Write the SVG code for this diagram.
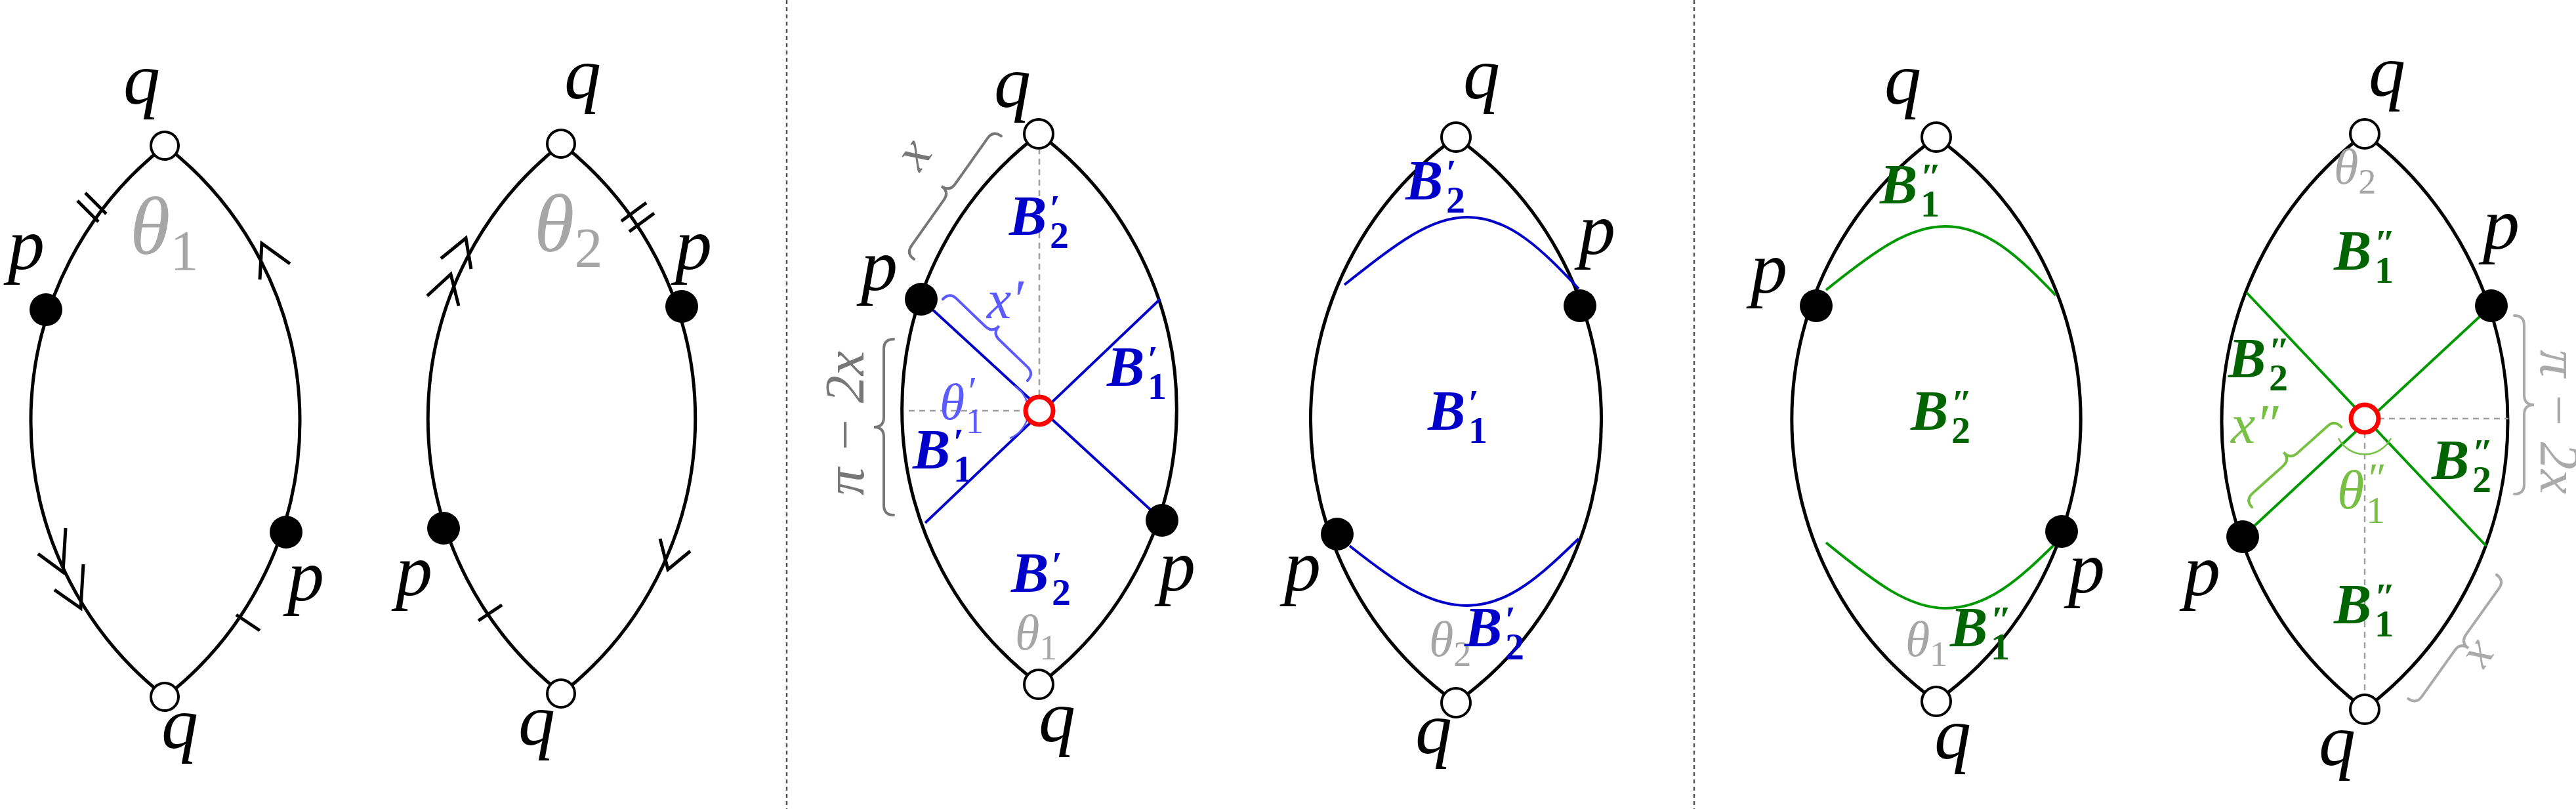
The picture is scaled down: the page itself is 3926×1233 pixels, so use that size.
<svg xmlns="http://www.w3.org/2000/svg" width="3926" height="1233" viewBox="0 0 3926 1233">
<style>
.lens{fill:none;stroke:#000;stroke-width:5}
.hole{fill:#fff;stroke:#000;stroke-width:4}
.dot{fill:#000}
.red{fill:#fff;stroke:#ff0000;stroke-width:7}
.tk{stroke:#000;stroke-width:5;fill:none}
.m{font-family:"Liberation Serif",serif;font-style:italic;font-size:112px;fill:#000}
.th{font-family:"Liberation Serif",serif;font-style:italic;fill:#a6a6a6}
.sub{font-family:"Liberation Serif",serif;font-style:normal}
.bb{font-family:"Liberation Serif",serif;font-style:italic;font-weight:bold;font-size:86px}
.bs{font-family:"Liberation Serif",serif;font-weight:bold;font-size:58px}
.blue{fill:#0000c8}
.green{fill:#006400}
.bl{stroke:#0000c8;stroke-width:4;fill:none}
.gl{stroke:#009900;stroke-width:4;fill:none}
.dash{stroke:#a0a0a0;stroke-width:2.5;stroke-dasharray:9 7;fill:none}
.sep{stroke:#555;stroke-width:2.5;stroke-dasharray:6 5}
.brace{fill:none;stroke-width:4;stroke-linecap:round}
</style>
<g id="separators">
<line class="sep" x1="1199" y1="0" x2="1199" y2="1233"/>
<line class="sep" x1="2582" y1="0" x2="2582" y2="1233"/>
</g>

<g id="panel1">
<path class="lens" d="M252,222 A532.7,532.7 0 0 0 252,1062 A532.7,532.7 0 0 0 252,222"/>
<path class="tk" d="M118,306 L150,338 M130,294 L162,326"/>
<path class="tk" d="M360,937 L396,961"/>
<polyline class="tk" points="396,426 399,371 442,402"/>
<polyline class="tk" points="58,844 96,872 100,805"/>
<polyline class="tk" points="83,899 123,927 127,860"/>
<circle class="hole" cx="251" cy="222" r="21"/>
<circle class="hole" cx="251" cy="1062" r="21"/>
<circle class="dot" cx="70" cy="472" r="25"/>
<circle class="dot" cx="436" cy="811" r="25"/>
<text class="m" x="188" y="158">q</text>
<text class="m" x="12" y="410">p</text>
<text class="m" x="438" y="915">p</text>
<text class="m" x="246" y="1140">q</text>
<text class="th" x="198" y="387" font-size="125">θ<tspan class="sub" font-size="86" dy="24">1</tspan></text>
</g>

<g id="panel2">
<path class="lens" d="M856,219 A532.7,532.7 0 0 0 856,1057 A532.7,532.7 0 0 0 856,219"/>
<path class="tk" d="M947,337 L985,309 M959,353 L997,325"/>
<path class="tk" d="M729,946 L765,922"/>
<polyline class="tk" points="672,394 710,363 718,410"/>
<polyline class="tk" points="651,451 687,418 699,466"/>
<polyline class="tk" points="1006,821 1018,868 1052,840"/>
<circle class="hole" cx="855" cy="219" r="21"/>
<circle class="hole" cx="855" cy="1057" r="21"/>
<circle class="dot" cx="1039" cy="467" r="25"/>
<circle class="dot" cx="676" cy="805" r="25"/>
<text class="m" x="860" y="150">q</text>
<text class="m" x="1029" y="410">p</text>
<text class="m" x="603" y="907">p</text>
<text class="m" x="790" y="1135">q</text>
<text class="th" x="814" y="383" font-size="125">θ<tspan class="sub" font-size="86" dy="24">2</tspan></text>
</g>

<g id="panel3">
<path class="lens" d="M1584,204 A525,525 0 0 0 1584,1043 A525,525 0 0 0 1584,204"/>
<line class="dash" x1="1584" y1="226" x2="1584" y2="605"/>
<line class="dash" x1="1385" y1="626" x2="1563" y2="626"/>
<path class="bl" d="M1404,456 L1771,793 M1768,456 L1410,797"/>
<path d="M1546,588 A45,45 0 0 1 1539,668" fill="none" stroke="#5a5aff" stroke-width="2.5"/>
<path class="brace" stroke="#777" transform="translate(1393,395) rotate(-54.7)" d="M0,0 Q0,-15 15,-15 L100,-15 Q115,-15 115,-30 Q115,-15 130,-15 L215,-15 Q230,-15 230,0"/>
<path class="brace" stroke="#5a5aff" transform="translate(1437,456) rotate(43.9)" d="M0,0 Q0,-15 15,-15 L75,-15 Q90,-15 90,-30 Q90,-15 105,-15 L164,-15 Q179,-15 179,0"/>
<path class="brace" stroke="#777" transform="translate(1362,785) rotate(-90)" d="M0,0 Q0,-15 15,-15 L119,-15 Q134,-15 134,-30 Q134,-15 149,-15 L253,-15 Q268,-15 268,0"/>
<circle class="hole" cx="1583" cy="204" r="22"/>
<circle class="hole" cx="1583" cy="1043" r="22"/>
<circle class="dot" cx="1404" cy="456" r="25"/>
<circle class="dot" cx="1771" cy="793" r="25"/>
<circle class="red" cx="1584" cy="626" r="21"/>
<text class="m" x="1515" y="163">q</text>
<text class="m" x="1312" y="442">p</text>
<text class="m" x="1766" y="900">p</text>
<text class="m" x="1583" y="1130">q</text>
<text class="th" x="1382" y="255" font-size="80" style="fill:#777" transform="rotate(-55 1400 240)">x</text>
<text class="th" x="1316" y="645" font-size="84" style="fill:#777" text-anchor="middle" transform="rotate(-90 1316 645)">π − 2x</text>
<text class="th" x="1504" y="485" font-size="84" style="fill:#5a5aff">x′</text>
<text class="th" x="1432" y="639" font-size="78" style="fill:#5a5aff">θ</text>
<text class="th" x="1472" y="616" font-size="62" style="fill:#5a5aff">′</text>
<text class="sub" x="1472" y="660" font-size="54" fill="#5a5aff">1</text>
<text class="th" x="1547" y="990" font-size="76">θ<tspan class="sub" font-size="54" dy="15">1</tspan></text>
<g class="blue">
<text class="bb" x="1538" y="358">B</text><text class="bs" x="1600" y="337">′</text><text class="bs" x="1600" y="378">2</text>
<text class="bb" x="1687" y="588">B</text><text class="bs" x="1749" y="567">′</text><text class="bs" x="1749" y="608">1</text>
<text class="bb" x="1391" y="714">B</text><text class="bs" x="1453" y="693">′</text><text class="bs" x="1453" y="734">1</text>
<text class="bb" x="1541" y="902">B</text><text class="bs" x="1603" y="881">′</text><text class="bs" x="1603" y="922">2</text>
</g>
</g>

<g id="panel4">
<path class="lens" d="M2219,209 A530,530 0 0 0 2219,1071 A530,530 0 0 0 2219,209"/>
<path class="bl" d="M2049,434 C2130,370 2180,331 2236,331 C2300,331 2350,380 2406,440"/>
<path class="bl" d="M2057,832 C2130,890 2180,923 2236,923 C2300,923 2350,875 2406,821"/>
<circle class="hole" cx="2219" cy="209" r="22"/>
<circle class="hole" cx="2219" cy="1071" r="22"/>
<circle class="dot" cx="2408" cy="466" r="25"/>
<circle class="dot" cx="2038" cy="814" r="25"/>
<text class="m" x="2230" y="150">q</text>
<text class="m" x="2406" y="387">p</text>
<text class="m" x="1957" y="900">p</text>
<text class="m" x="2157" y="1148">q</text>
<text class="th" x="2178" y="1000" font-size="76">θ<tspan class="sub" font-size="54" dy="15">2</tspan></text>
<g class="blue">
<text class="bb" x="2142" y="304">B</text><text class="bs" x="2204" y="283">′</text><text class="bs" x="2204" y="324">2</text>
<text class="bb" x="2176" y="655">B</text><text class="bs" x="2238" y="634">′</text><text class="bs" x="2238" y="675">1</text>
<text class="bb" x="2232" y="985">B</text><text class="bs" x="2294" y="964">′</text><text class="bs" x="2294" y="1005">2</text>
</g>
</g>

<g id="panel5">
<path class="lens" d="M2951,209 A530,530 0 0 0 2951,1069 A530,530 0 0 0 2951,209"/>
<path class="gl" d="M2783,442 C2860,380 2910,345 2965,345 C3030,345 3080,395 3133,450"/>
<path class="gl" d="M2783,827 C2860,890 2910,927 2965,927 C3030,927 3080,880 3131,830"/>
<circle class="hole" cx="2951" cy="209" r="22"/>
<circle class="hole" cx="2951" cy="1069" r="22"/>
<circle class="dot" cx="2768" cy="466" r="25"/>
<circle class="dot" cx="3142" cy="810" r="25"/>
<text class="m" x="2872" y="158">q</text>
<text class="m" x="2668" y="446">p</text>
<text class="m" x="3152" y="903">p</text>
<text class="m" x="2948" y="1156">q</text>
<text class="th" x="2904" y="1000" font-size="76">θ<tspan class="sub" font-size="54" dy="15">1</tspan></text>
<g class="green">
<text class="bb" x="2865" y="310">B</text><text class="bs" x="2927" y="289">″</text><text class="bs" x="2927" y="330">1</text>
<text class="bb" x="2912" y="655">B</text><text class="bs" x="2974" y="634">″</text><text class="bs" x="2974" y="675">2</text>
<text class="bb" x="2972" y="985">B</text><text class="bs" x="3034" y="964">″</text><text class="bs" x="3034" y="1005">1</text>
</g>
</g>

<g id="panel6">
<path class="lens" d="M3604,204 A550,550 0 0 0 3604,1081 A550,550 0 0 0 3604,204"/>
<line class="dash" x1="3625" y1="638" x2="3823" y2="638"/>
<line class="dash" x1="3604" y1="659" x2="3604" y2="1059"/>
<path class="gl" d="M3797,466 L3418,818 M3424,446 L3789,832"/>
<path d="M3564,668 A45,45 0 0 0 3644,668" fill="none" stroke="#77c043" stroke-width="2.5"/>
<path class="brace" stroke="#77c043" transform="translate(3432,773) rotate(-41.9)" d="M0,0 Q0,-15 15,-15 L77,-15 Q92,-15 92,-30 Q92,-15 107,-15 L168,-15 Q183,-15 183,0"/>
<path class="brace" stroke="#aaa" transform="translate(3832,481) rotate(90)" d="M0,0 Q0,-15 15,-15 L121,-15 Q136,-15 136,-30 Q136,-15 151,-15 L257,-15 Q272,-15 272,0"/>
<path class="brace" stroke="#aaa" transform="translate(3805,876) rotate(125.5)" d="M0,0 Q0,-15 15,-15 L101,-15 Q116,-15 116,-30 Q116,-15 131,-15 L217,-15 Q232,-15 232,0"/>
<circle class="hole" cx="3604" cy="204" r="22"/>
<circle class="hole" cx="3604" cy="1081" r="22"/>
<circle class="dot" cx="3797" cy="466" r="25"/>
<circle class="dot" cx="3418" cy="818" r="25"/>
<circle class="red" cx="3604" cy="638" r="21"/>
<text class="m" x="3610" y="146">q</text>
<text class="m" x="3784" y="379">p</text>
<text class="m" x="3328" y="907">p</text>
<text class="m" x="3534" y="1166">q</text>
<text class="th" x="3557" y="280" font-size="76">θ<tspan class="sub" font-size="54" dy="15">2</tspan></text>
<text class="th" x="3400" y="675" font-size="84" style="fill:#77c043">x″</text>
<text class="th" x="3562" y="775" font-size="84" style="fill:#77c043">θ</text>
<text class="th" x="3606" y="750" font-size="64" style="fill:#77c043">″</text>
<text class="sub" x="3606" y="797" font-size="58" fill="#77c043">1</text>
<text class="th" x="3872" y="643" font-size="84" style="fill:#aaa" text-anchor="middle" transform="rotate(90 3872 643)">π − 2x</text>
<text class="th" x="3766" y="1010" font-size="74" style="fill:#aaa" transform="rotate(125 3780 995)">x</text>
<g class="green">
<text class="bb" x="3557" y="411">B</text><text class="bs" x="3619" y="390">″</text><text class="bs" x="3619" y="431">1</text>
<text class="bb" x="3396" y="575">B</text><text class="bs" x="3458" y="554">″</text><text class="bs" x="3458" y="595">2</text>
<text class="bb" x="3706" y="730">B</text><text class="bs" x="3768" y="709">″</text><text class="bs" x="3768" y="750">2</text>
<text class="bb" x="3557" y="950">B</text><text class="bs" x="3619" y="929">″</text><text class="bs" x="3619" y="970">1</text>
</g>
</g>
</svg>
